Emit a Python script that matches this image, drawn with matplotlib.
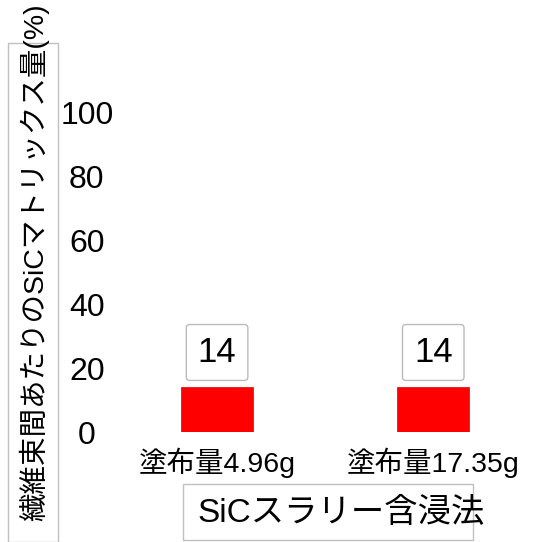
import matplotlib
matplotlib.use('Agg')
import matplotlib.pyplot as plt
from matplotlib.patches import Rectangle

plt.rcParams['font.family'] = ['Liberation Sans', 'Noto Sans CJK JP']

# data
categories = ['塗布量4.96g', '塗布量17.35g']
values = [14, 14]
yticks = [0, 20, 40, 60, 80, 100]
ylabel = '繊維束間あたりのSiCマトリックス量(%)'
xlabel = 'SiCスラリー含浸法'

W, H = 537, 542
fig = plt.figure(figsize=(W / 100, H / 100), dpi=100)
ax = fig.add_axes([109 / W, (H - 432) / H, (W - 109) / W, 320 / H])

x = list(range(len(categories)))
bars = ax.bar(x, values, width=1 / 3, color='#ff0000', edgecolor='#e00000', linewidth=0.5)

for xi, v in zip(x, values):
    ax.annotate(str(v), (xi, v), xytext=(0, 25), textcoords='offset points',
                ha='center', va='center', fontsize=25,
                bbox=dict(boxstyle='round,pad=0.33,rounding_size=0.1', fc='white', ec='#bbbbbb', lw=1))

ax.set_xlim(-0.5, 1.48)
ax.set_ylim(0, 100)
ax.set_yticks(yticks)
ax.set_yticklabels([str(t) for t in yticks], fontsize=23, ha='center')
ax.set_xticks(x)
ax.set_xticklabels(categories, fontsize=20.5)
ax.tick_params(axis='y', length=0, pad=16)
ax.tick_params(axis='x', length=0, pad=11)
for s in ax.spines.values():
    s.set_visible(False)

# y label with its box
fig.add_artist(Rectangle((8 / W, 0), 50 / W, (H - 43) / H, transform=fig.transFigure,
                         fill=False, ec='#c0c0c0', lw=1))
fig.text(34 / W, (H - 262) / H, ylabel, rotation=90, ha='center', va='center', fontsize=20.5)

# x title with its box
fig.add_artist(Rectangle((183 / W, 2 / H), 290 / W, 56 / H, transform=fig.transFigure,
                         fill=False, ec='#c0c0c0', lw=1))
fig.text(341 / W, (H - 513) / H, xlabel, ha='center', va='center', fontsize=24)

fig.savefig('out.png', dpi=100)
